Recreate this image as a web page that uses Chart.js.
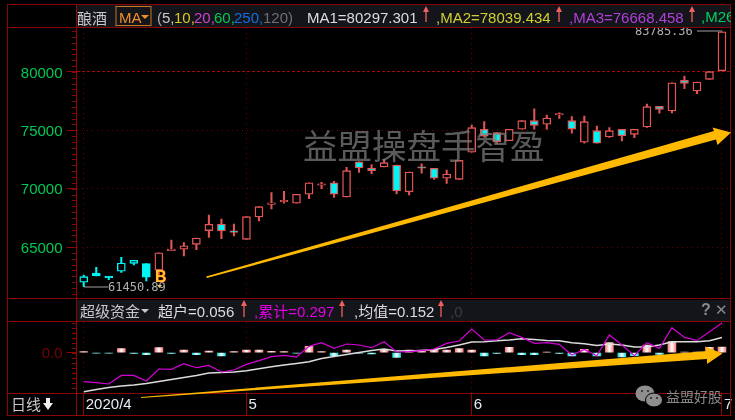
<!DOCTYPE html>
<html>
<head>
<meta charset="utf-8">
<script src="https://cdn.jsdelivr.net/npm/chart.js@4/dist/chart.umd.min.js"></script>
<style>
  html, body { margin: 0; padding: 0; background: #000; }
  #page { position: relative; width: 735px; height: 420px; overflow: hidden; background: #000; font-family: "Liberation Sans", "Noto Sans CJK SC", sans-serif; }
  canvas { position: absolute; left: 0; z-index: 1; }
  .t { position: absolute; white-space: pre; line-height: 1; z-index: 5; }
  .bar { position: absolute; left: 77px; width: 654px; background: #14141b; z-index: 3; overflow: hidden; }
  svg { position: absolute; left: 0; top: 0; z-index: 4; }
</style>
</head>
<body>
<div id="page">
  <canvas id="mainChart" style="top:28px;width:735px;height:270px"></canvas>
  <canvas id="subChart" style="top:322px;width:735px;height:93px"></canvas>
  <div class="bar" style="top:5px;height:22px"></div>
  <div class="bar" style="top:300px;height:21px"></div>
  <svg id="overlay" width="735" height="420"></svg>
</div>
<script>
const opens = [61980, 62770, 62490, 62920, 63600, 63570, 63030, 64690, 64810, 65230, 66400, 66970, 66350, 65660, 67570, 68660, 68880, 68750, 69520, 70290, 70510, 69290, 72310, 71770, 71860, 72030, 69720, 71830, 71750, 70890, 70800, 73120, 75090, 74800, 74110, 75090, 75830, 75520, 76310, 75830, 73980, 74970, 74430, 75090, 74660, 75290, 77060, 76660, 79290, 78370, 79370, 80110];
const closes = [62460, 62520, 62370, 63630, 63860, 62410, 64510, 64830, 65110, 65770, 66950, 66370, 66260, 67600, 68460, 68770, 68970, 69520, 70510, 70340, 69520, 71540, 71770, 71540, 72230, 69800, 71430, 71750, 70890, 71260, 72430, 75230, 74510, 74030, 75090, 75830, 75430, 76060, 76430, 75110, 75740, 73890, 74970, 74540, 75090, 77030, 76800, 79080, 79030, 79140, 80030, 83450];
const highs = [62600, 63260, 62490, 64120, 63860, 63570, 64510, 65600, 65370, 65770, 67740, 67400, 66970, 67600, 68460, 69660, 69780, 69520, 70510, 70550, 70630, 71830, 72310, 72060, 72520, 72030, 71430, 72120, 71750, 71600, 72430, 75460, 75740, 74800, 75090, 75830, 76850, 76310, 76510, 76170, 76230, 75370, 75230, 75090, 75090, 77260, 77060, 79080, 79660, 79140, 80030, 83450];
const lows = [61600, 62520, 62200, 62830, 63460, 62090, 62600, 64690, 64230, 64770, 65830, 65710, 65950, 65660, 67230, 68260, 68750, 68750, 69140, 70000, 69260, 69290, 71400, 71280, 71860, 69540, 69460, 71320, 70800, 70460, 70800, 73120, 74430, 73910, 74110, 75090, 75110, 75110, 76030, 74750, 73890, 73890, 74400, 74090, 74370, 75250, 76460, 76490, 78570, 78140, 79370, 80090];

// 超户 / 累计 / 均值
const superVals = [0.01, -0.005, -0.005, 0.04, -0.008, -0.02, 0.05, -0.008, 0.027, -0.02, 0.015, -0.033, 0.01, 0.025, 0.025, 0.013, 0.012, -0.005, 0.063, 0.01, -0.03, 0.027, -0.005, -0.012, 0.033, -0.047, 0.027, 0.027, 0.033, 0.027, 0.04, 0.027, -0.033, -0.008, 0.053, -0.02, -0.02, 0.007, -0.006, -0.033, 0.033, -0.033, 0.1, -0.043, -0.03, 0.077, -0.017, 0.11, 0.006, 0.006, 0.053, 0.056];
const cumVals = [-0.29, -0.3, -0.313, -0.227, -0.227, -0.283, -0.163, -0.167, -0.11, -0.15, -0.127, -0.193, -0.173, -0.117, -0.08, -0.04, -0.027, -0.043, 0.063, 0.1, 0.043, 0.087, 0.077, 0.05, 0.11, 0.007, 0.01, 0.02, 0.037, 0.093, 0.117, 0.237, 0.127, 0.127, 0.2, 0.153, 0.093, 0.1, 0.083, -0.023, 0.033, -0.03, 0.177, 0.077, -0.03, 0.1, 0.043, 0.25, 0.153, 0.123, 0.21, 0.297];
const avgVals = [-0.39, -0.367, -0.347, -0.333, -0.323, -0.307, -0.287, -0.267, -0.247, -0.227, -0.203, -0.197, -0.193, -0.18, -0.16, -0.14, -0.123, -0.107, -0.09, -0.057, -0.037, -0.017, 0.003, 0.023, 0.037, 0.017, 0.02, 0.023, 0.033, 0.053, 0.077, 0.107, 0.11, 0.12, 0.127, 0.14, 0.133, 0.123, 0.12, 0.1, 0.09, 0.073, 0.087, 0.077, 0.057, 0.057, 0.077, 0.11, 0.11, 0.11, 0.12, 0.152];

const priceTicks = [65000, 70000, 75000, 80000];
const monthIdx = [0, 13, 31, 51];
const monthLabels = ["2020/4", "5", "6", "7"];
const cyanUntil = 6; // candles before the B mark are all cyan

const RED = "#e25555", CYAN = "#00f6f6", FRAME = "#8a0505";
const xIdx = opens.map((_, i) => i);

Chart.defaults.animation = false;
Chart.defaults.font.family = '"Liberation Sans", sans-serif';

const xScale = extra => Object.assign({
  type: "linear", min: -0.58, max: 51.72, offset: false,
  afterBuildTicks: s => { s.ticks = monthIdx.map(v => ({ value: v })); },
  grid: { color: "#6a0000", drawTicks: false, offset: false },
  border: { display: false, dash: [1, 4] },
  ticks: { display: false, autoSkip: false, maxRotation: 0 },
  afterFit: s => { s.height = 0; s.paddingLeft = 0; s.paddingRight = 0; }
}, extra);

const fixY = s => { s.width = 76.5; s.paddingTop = 0; s.paddingBottom = 0; };

// short ruler marks between the labelled ticks
const minorTicks = {
  id: "minorTicks",
  afterDraw(chart, args, opts) {
    const y = chart.scales.y, c = chart.ctx;
    c.save();
    c.strokeStyle = FRAME;
    c.lineWidth = 1;
    for (let v = opts.from; v <= opts.to + 1e-9; v += opts.step) {
      const p = Math.round(y.getPixelForValue(v)) + 0.5;
      if (p < chart.chartArea.top || p > chart.chartArea.bottom) continue;
      c.beginPath();
      c.moveTo(72, p);
      c.lineTo(76.5, p);
      c.stroke();
    }
    c.restore();
  }
};

new Chart(document.getElementById("mainChart"), {
  type: "bar",
  plugins: [minorTicks],
  data: {
    datasets: [
      {
        label: "wick",
        order: 2,
        grouped: false,
        barThickness: 1.4,
        data: xIdx.map(i => ({ x: i, y: [lows[i], highs[i]] })),
        backgroundColor: xIdx.map(i => i < cyanUntil ? CYAN : RED)
      },
      {
        label: "body",
        order: 1,
        grouped: false,
        barThickness: 8,
        minBarLength: 1.5,
        borderWidth: 1.4,
        borderSkipped: false,
        data: xIdx.map(i => ({ x: i, y: [opens[i], closes[i]] })),
        borderColor: xIdx.map(i => i < cyanUntil ? CYAN : RED),
        backgroundColor: xIdx.map(i => closes[i] < opens[i] ? CYAN : "#000")
      }
    ]
  },
  options: {
    responsive: false,
    devicePixelRatio: 1,
    layout: { padding: { left: 0, right: 4, top: 0, bottom: 0 } },
    plugins: { legend: { display: false }, tooltip: { enabled: false }, minorTicks: { from: 60500, to: 84000, step: 500 } },
    scales: {
      x: xScale({}),
      y: {
        min: 60630, max: 83770,
        afterBuildTicks: s => { s.ticks = priceTicks.map(v => ({ value: v })); },
        afterFit: fixY,
        border: { display: false, dash: c => c.tick && c.tick.value === 80000 ? [3, 2] : [1, 4] },
        grid: { color: c => c.tick && c.tick.value === 80000 ? "#a00a0a" : "#6a0000", tickColor: FRAME, tickLength: 10 },
        ticks: { color: "#00c853", padding: 4, labelOffset: 1.5, font: { size: 15 }, callback: v => String(v) }
      }
    }
  }
});

function barGrad(chart, i, col) {
  const px = chart.scales.x ? chart.scales.x.getPixelForValue(i) : NaN;
  if (!isFinite(px)) return col;
  const g = chart.ctx.createLinearGradient(px - 4, 0, px + 4, 0);
  g.addColorStop(0, col);
  g.addColorStop(0.5, "#ffffff");
  g.addColorStop(1, col);
  return g;
}

new Chart(document.getElementById("subChart"), {
  type: "bar",
  plugins: [minorTicks],
  data: {
    datasets: [
      {
        type: "line",
        order: 1,
        data: xIdx.map(i => ({ x: i, y: cumVals[i] })),
        borderColor: "#d400d8",
        borderWidth: 1.2,
        pointRadius: 0,
        tension: 0
      },
      {
        type: "line",
        order: 1,
        data: xIdx.map(i => ({ x: i, y: avgVals[i] })),
        borderColor: "#dcdcdc",
        borderWidth: 1.5,
        pointRadius: 0,
        tension: 0
      },
      {
        order: 2,
        barThickness: 8,
        data: xIdx.map(i => ({ x: i, y: superVals[i] })),
        backgroundColor: c => c.dataIndex === undefined ? "#fff" : barGrad(c.chart, c.dataIndex, superVals[c.dataIndex] >= 0 ? "#f88080" : "#10dede")
      }
    ]
  },
  options: {
    responsive: false,
    devicePixelRatio: 1,
    layout: { padding: { left: 0, right: 4, top: 0, bottom: 0 } },
    plugins: { legend: { display: false }, tooltip: { enabled: false }, minorTicks: { from: -0.4, to: 0.3, step: 0.05 } },
    scales: {
      x: xScale({
        afterFit: s => { s.height = 22; s.paddingLeft = 0; s.paddingRight = 0; },
        grid: { color: "#6a0000", tickColor: FRAME, tickLength: 22, offset: false },
        ticks: {
          display: true, autoSkip: false, maxRotation: 0, align: "start", labelOffset: 2,
          padding: -19, color: "#e4ecf6", font: { size: 15 },
          callback: v => monthLabels[monthIdx.indexOf(v)]
        }
      }),
      y: {
        min: -0.403, max: 0.307,
        afterBuildTicks: s => { s.ticks = [{ value: 0 }]; },
        afterFit: fixY,
        border: { display: false },
        grid: { display: true, drawOnChartArea: false, tickColor: FRAME, tickLength: 10 },
        ticks: { color: "#7d0000", padding: 4, labelOffset: 1, font: { size: 15 }, callback: v => v.toFixed(1) }
      }
    }
  }
});

// header texts and small annotations
const page = document.getElementById("page");
function text(str, x, cy, color, size, extra) {
  const d = document.createElement("div");
  d.className = "t";
  d.textContent = str;
  d.style.left = x + "px";
  d.style.top = (cy - size / 2) + "px";
  d.style.color = color;
  d.style.fontSize = size + "px";
  if (extra) Object.assign(d.style, extra);
  page.appendChild(d);
  return d;
}

text("酿酒", 77, 18, "#c8c8c8", 15);
text("MA", 119, 17, "#ef8f2a", 15);
[["(", 157, "#b0b0b0"], ["5,", 162, "#c8c8c8"], ["10,", 174, "#d8c820"], ["20,", 194, "#d040d0"], ["60,", 214, "#00c850"], ["250,", 234, "#1070e0"], ["120)", 263, "#707070"]]
  .forEach(p => text(p[0], p[1], 17, p[2], 15));
text("MA1=80297.301", 307, 17, "#dcdce0", 15);
text(",MA2=78039.434", 436, 17, "#d0d030", 15);
text(",MA3=76668.458", 569, 17, "#b040d8", 15);
const cut = document.createElement("div");
cut.className = "t";
cut.style.cssText = "left:701px;top:9px;width:30px;height:17px;overflow:hidden;font-size:15px;color:#00d060";
cut.textContent = ",M26";
page.appendChild(cut);

text("超级资金", 80, 311, "#c8c8c8", 15);
text("超户=0.056", 158, 311, "#dcdce0", 15);
text(",累计=0.297", 254, 311, "#e000e0", 15);
text(",均值=0.152", 354, 311, "#dcdce0", 15);
text(",0", 450, 311, "#3c3c3c", 15);
text("?", 701, 310, "#8a8a8a", 16, { fontWeight: "bold" });
text("✕", 715, 310, "#8a8a8a", 15, { fontWeight: "bold", fontFamily: '"DejaVu Sans"' });
text("日线", 11, 404, "#c8c8c8", 15);

text("83785.36", 635, 31, "#b0b0b0", 12, { fontFamily: '"DejaVu Sans Mono"', zIndex: 2 });
text("61450.89", 108, 287, "#b0b0b0", 12, { fontFamily: '"DejaVu Sans Mono"' });
text("B", 155, 277, "#ffc830", 16, { fontWeight: "bold", textShadow: "0 0 1px #e00000, 0 0 1px #e00000" });
text("益盟操盘手智盈", 303, 144, "rgba(125,125,125,0.72)", 34.5, { fontFamily: '"Noto Sans CJK SC"', fontWeight: "400" });
text("益盟好股", 666, 397, "#8a8a8a", 14);

// frame, small arrows and the hand drawn yellow arrows
const NS = "http://www.w3.org/2000/svg";
const svg = document.getElementById("overlay");
function shape(tag, attrs) {
  const e = document.createElementNS(NS, tag);
  for (const k in attrs) e.setAttribute(k, attrs[k]);
  svg.appendChild(e);
}
[[7.5, 4.5, 731, 4.5], [7.5, 27.5, 731, 27.5], [7.5, 298.5, 731, 298.5], [7.5, 321.5, 731, 321.5], [7.5, 393.5, 731, 393.5], [7.5, 415.5, 731, 415.5],
 [7.5, 4.5, 7.5, 415.5], [76.5, 4.5, 76.5, 415.5], [730.5, 4.5, 730.5, 415.5]]
  .forEach(l => shape("line", { x1: l[0], y1: l[1], x2: l[2], y2: l[3], stroke: FRAME, "stroke-width": 1 }));

shape("rect", { x: 116, y: 6.5, width: 35, height: 19, fill: "none", stroke: "#c87820", "stroke-width": 1 });
shape("polygon", { points: "141,15 149,15 145,19", fill: "#ef8f2a" });
shape("polygon", { points: "141,309 149,309 145,313", fill: "#c8c8c8" });
shape("polygon", { points: "43,403 46,403 46,398 50,398 50,403 53,403 48,410", fill: "#f0f0f0" });

[[426, 6, 22], [559, 6, 22], [692, 6, 22], [244, 300, 317], [342, 300, 317], [441, 300, 317]].forEach(a => {
  shape("line", { x1: a[0], y1: a[1] + 2, x2: a[0], y2: a[2], stroke: "#f06060", "stroke-width": 1.3 });
  shape("polygon", { points: `${a[0] - 3},${a[1] + 6} ${a[0]},${a[1]} ${a[0] + 3},${a[1] + 6}`, fill: "#f06060" });
});

shape("line", { x1: 84, y1: 287, x2: 108, y2: 287, stroke: "#a0a0a0", "stroke-width": 1 });
shape("line", { x1: 697, y1: 31, x2: 722, y2: 31, stroke: "#a0a0a0", "stroke-width": 1 });
shape("polygon", { points: "157,285 162,285 159.5,288", fill: "#f0e060" });

shape("polygon", { points: "206,276.5 714,131 712.5,127.5 731,132.5 717.5,145 716,139.5 207,278", fill: "#ffb900" });
shape("polygon", { points: "141,397 707,351 705,346.5 722.5,353.5 707,364 707,359 141,398", fill: "#ffb900" });

// wechat mark
shape("ellipse", { cx: 645, cy: 393.5, rx: 9.5, ry: 8, fill: "#8e8e8e" });
shape("ellipse", { cx: 654, cy: 400, rx: 8.5, ry: 7, fill: "#8e8e8e", stroke: "#000", "stroke-width": 1 });
[[642, 391], [648, 391], [651, 398], [657, 398]].forEach(p => shape("circle", { cx: p[0], cy: p[1], r: 1, fill: "#222" }));
</script>
</body>
</html>
